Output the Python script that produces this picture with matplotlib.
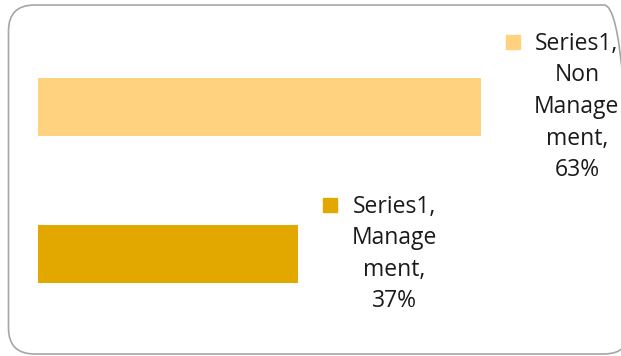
import matplotlib.pyplot as plt
from matplotlib.patches import FancyBboxPatch
import matplotlib.transforms as mtransforms

plt.rcParams['font.family'] = ['Open Sans', 'DejaVu Sans']

categories = ['Management', 'Non Management']
label_lines = [['Series1,', 'Manage', 'ment,', '37%'],
               ['Series1,', 'Non', 'Manage', 'ment,', '63%']]
values = [37, 63]
colors = ['#E3A800', '#FFD27F']

W, H = 621, 356
fig = plt.figure(figsize=(W / 100, H / 100), dpi=100)

# rounded chart border (inches)
border = FancyBboxPatch((0.085, 0.02), 6.215, 3.49,
                        boxstyle="round,pad=0,rounding_size=0.26",
                        transform=fig.dpi_scale_trans, facecolor='none',
                        edgecolor='#A6A6A6', linewidth=1.2, zorder=-1)
fig.patches.append(border)

ax = fig.add_axes([0, 0, 1, 1])
ax.patch.set_alpha(0)
px = 7.03   # pixels per percent
ax.set_xlim(-38 / px, (W - 38) / px)
ax.set_ylim((254 - H) / 147, 254 / 147)
ax.barh(range(len(values)), values, height=58 / 147, color=colors)
ax.axis('off')

line_h = 31
for i, (v, lines) in enumerate(zip(values, label_lines)):
    off = mtransforms.ScaledTranslation(96 / 100, 0 / 100, fig.dpi_scale_trans)
    ax.text(v, i, '\n'.join(lines), transform=ax.transData + off,
            ha='center', va='center', fontsize=16.5, linespacing=1.42,
            color='#1a1a1a', multialignment='center')
    dy = (len(lines) - 1) / 2 * line_h + 3
    off2 = mtransforms.ScaledTranslation(32 / 100, dy / 100, fig.dpi_scale_trans)
    ax.plot([v], [i], marker='s', markersize=10.5, color=colors[i],
            linestyle='none', transform=ax.transData + off2, clip_on=False)

fig.savefig('out.png', dpi=100)
